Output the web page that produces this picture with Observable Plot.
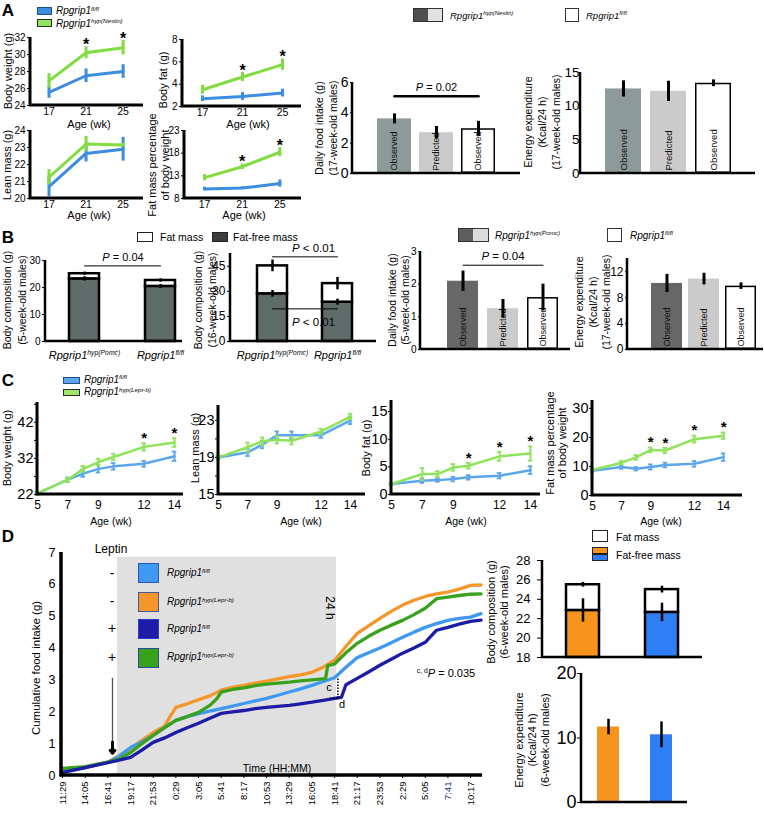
<!DOCTYPE html>
<html><head><meta charset="utf-8">
<script src="https://cdn.jsdelivr.net/npm/d3@7"></script>
<script src="https://cdn.jsdelivr.net/npm/@observablehq/plot@0.6"></script>
<style>
body{margin:0;background:#fff;}
#root{position:relative;width:764px;height:817px;overflow:hidden;font-family:"Liberation Sans",Arial,Helvetica,sans-serif;color:#000;background:#fff;}
.t{position:absolute;white-space:nowrap;line-height:1.15;}
.bx{position:absolute;box-sizing:border-box;}
sup{font-size:0.62em;vertical-align:0;position:relative;top:-0.55em;}
</style></head><body><div id="root"></div>
<script>
// ================= DATA =================
// Panel A (Rpgrip1 fl/fl vs hyp(Nestin))
const agesA = [17, 21, 25];
const bwA_flfl = [25.55, 27.5, 28.0], bwA_flflErr = [0.7, 0.8, 0.8];
const bwA_nes = [26.9, 30.2, 30.8], bwA_nesErr = [0.85, 0.7, 0.85], bwA_sig = [0, 1, 1];
const bfA_flfl = [2.7, 2.9, 3.2], bfA_flflErr = [0.25, 0.35, 0.35];
const bfA_nes = [3.5, 4.64, 5.75], bfA_nesErr = [0.4, 0.4, 0.5], bfA_sig = [0, 1, 1];
const lmA_flfl = [20.7, 22.65, 22.9], lmA_flflErr = [0.6, 0.5, 0.7];
const lmA_nes = [21.25, 23.2, 23.15], lmA_nesErr = [0.45, 0.45, 0.1], lmA_sig = [0, 0, 0];
const fpA_flfl = [10.1, 10.3, 11.3], fpA_flflErr = [0.4, 0.3, 0.8];
const fpA_nes = [12.6, 15.0, 18.2], fpA_nesErr = [0.7, 0.6, 1.0], fpA_sig = [0, 1, 1];

const barKeys = ["mutObserved", "mutPredicted", "ctrlObserved"];
const barLabels = ["Observed", "Predicted", "Observed"];
const foodA = [3.6, 2.69, 2.95], foodAErr = [0.33, 0.41, 0.49];
const foodA_P = [{from: "mutObserved", to: "ctrlObserved", y: 5.09, label: "P = 0.02"}];
const energyA = [12.56, 12.2, 13.4], energyAErr = [1.2, 1.5, 0.5];

// Panel B (Rpgrip1 hyp(Pomc) vs fl/fl)
const genoB = ["hypPomc", "flfl"];
const genoBLabels = ["Rpgrip1^{hyp(Pomc)}", "Rpgrip1^{fl/fl}"];
const compB5_ff = [23.2, 20.4], compB5_ffErr = [0.8, 0.7];
const compB5_tot = [25.1, 22.6], compB5_totErr = [0.6, 0.6];
const compB5_P = [{from: "hypPomc", to: "flfl", y: 28, label: "P = 0.04", dy: -8}];
const compB16_ff = [28.5, 23.5], compB16_ffErr = [2, 1.8];
const compB16_tot = [45.2, 34.6], compB16_totErr = [3.5, 3.7];
const compB16_P = [{from: "hypPomc", to: "flfl", y: 50.6, label: "P < 0.01", dy: -9},
                   {from: "hypPomc", to: "flfl", y: 19.5, label: "P < 0.01", dy: 13}];
const foodB = [2.09, 1.25, 1.59], foodBErr = [0.31, 0.28, 0.41];
const foodB_P = [{from: "mutObserved", to: "ctrlObserved", y: 2.58, label: "P = 0.04"}];
const energyB = [10.2, 10.87, 9.78], energyBErr = [1.4, 0.9, 0.5];

// Panel C (Rpgrip1 fl/fl vs hyp(Lepr-b))
const agesC = [5, 7, 8, 9, 10, 12, 14];
const bwC_flfl = [22.3, 26.1, 27.8, 29.1, 29.8, 30.5, 32.6], bwC_flflErr = [0.4, 0.6, 0.9, 1.0, 0.9, 0.8, 1.3];
const bwC_lepr = [22.4, 26.1, 29.1, 31.0, 32.4, 35.2, 36.4], bwC_leprErr = [0.4, 0.6, 0.8, 0.9, 0.9, 1.0, 1.2];
const bwC_sig = [0, 0, 0, 0, 0, 1, 1];
const lmC_flfl = [19.0, 19.55, 20.4, 21.4, 21.4, 21.4, 23.0], lmC_flflErr = [0.2, 0.4, 0.4, 0.4, 0.4, 0.3, 0.4];
const lmC_lepr = [19.0, 20.1, 20.75, 20.9, 20.8, 21.8, 23.4], lmC_leprErr = [0.2, 0.5, 0.4, 0.4, 0.4, 0.3, 0.3];
const lmC_sig = [0, 0, 0, 0, 0, 0, 0];
const bfC_flfl = [1.9, 2.5, 2.6, 2.8, 3.1, 3.4, 4.4], bfC_flflErr = [0.2, 0.4, 0.3, 0.4, 0.4, 0.5, 0.7];
const bfC_lepr = [1.9, 3.7, 3.7, 4.9, 5.2, 6.9, 7.4], bfC_leprErr = [0.2, 1.1, 0.5, 0.6, 0.5, 0.8, 1.3];
const bfC_sig = [0, 0, 0, 0, 1, 1, 1];
const fpC_flfl = [8.5, 9.8, 9.2, 9.8, 10.5, 10.9, 13.2], fpC_flflErr = [0.5, 0.6, 0.6, 0.9, 0.8, 1.0, 1.3];
const fpC_lepr = [8.8, 11.3, 13.1, 15.7, 15.5, 19.4, 20.6], fpC_leprErr = [0.6, 0.6, 0.8, 0.8, 0.9, 1.2, 1.1];
const fpC_sig = [0, 0, 0, 1, 1, 1, 1];

// Panel D — cumulative food intake, time in minutes after 11:29
const startClock = 11 * 60 + 29;
const tickStep = 156;
const darkStart = 378, darkEnd = 1885;           // grey shaded period
const leptinArrow = [{t: 344, from: 3.05, to: 0.7}];
const cdBracket = [{t: 1895, lo: 2.42, hi: 3.07, t0: 1845}];
const D_flfl_veh = [[0,0.1],[156,0.25],[312,0.42],[390,0.6],[468,0.88],[546,1.05],[624,1.26],[702,1.5],[780,1.73],[858,1.85],[936,1.94],[1014,2.02],[1092,2.1],[1170,2.18],[1248,2.26],[1326,2.34],[1404,2.42],[1482,2.52],[1560,2.62],[1638,2.72],[1716,2.83],[1794,2.95],[1872,3.07],[1950,3.4],[2028,3.7],[2106,3.85],[2184,4.0],[2262,4.17],[2340,4.34],[2418,4.5],[2496,4.65],[2574,4.77],[2652,4.87],[2730,4.93],[2808,4.97],[2880,5.08]];
const D_lepr_veh = [[0,0.12],[156,0.25],[312,0.42],[390,0.62],[468,0.85],[546,1.1],[624,1.35],[702,1.55],[740,1.85],[780,2.14],[858,2.25],[936,2.38],[1014,2.5],[1092,2.68],[1170,2.77],[1248,2.83],[1326,2.9],[1404,2.96],[1482,3.03],[1560,3.1],[1638,3.16],[1716,3.24],[1794,3.4],[1872,3.62],[1950,4.05],[2028,4.46],[2106,4.7],[2184,4.93],[2262,5.15],[2340,5.35],[2418,5.5],[2496,5.62],[2574,5.7],[2652,5.76],[2730,5.85],[2808,5.97],[2880,5.98]];
const D_flfl_lep = [[0,0.1],[156,0.25],[312,0.4],[390,0.48],[468,0.57],[546,0.8],[624,1.04],[702,1.18],[780,1.35],[858,1.5],[936,1.64],[1014,1.8],[1092,1.95],[1170,2.0],[1248,2.04],[1326,2.1],[1404,2.14],[1482,2.17],[1560,2.2],[1638,2.25],[1716,2.3],[1794,2.36],[1872,2.42],[1919,2.45],[1950,2.85],[2028,3.05],[2106,3.25],[2184,3.46],[2262,3.65],[2340,3.84],[2418,4.0],[2496,4.18],[2574,4.56],[2652,4.65],[2730,4.75],[2808,4.84],[2880,4.88]];
const D_lepr_lep = [[0,0.22],[156,0.28],[312,0.42],[390,0.52],[468,0.72],[546,1.0],[624,1.26],[702,1.5],[780,1.73],[858,1.85],[936,1.98],[1014,2.2],[1060,2.4],[1092,2.62],[1170,2.7],[1248,2.75],[1326,2.82],[1404,2.87],[1482,2.9],[1560,2.93],[1638,2.97],[1716,3.0],[1810,3.04],[1825,3.45],[1872,3.5],[1950,3.85],[2028,4.15],[2106,4.37],[2184,4.56],[2262,4.72],[2340,4.87],[2418,5.05],[2496,5.25],[2574,5.55],[2652,5.6],[2730,5.65],[2808,5.69],[2880,5.7]];
const genoD = ["hypLepr", "flfl"];
const compD_ff = [22.85, 22.65], compD_ffErr = [1.2, 0.95];
const compD_tot = [25.5, 25.0], compD_totErr = [0.25, 0.35];
const energyD = [11.7, 10.5], energyDErr = [1.2, 2.0];

// ================= HELPERS =================
const FONT = '"Liberation Sans", Arial, Helvetica, sans-serif';
const SVGNS = "http://www.w3.org/2000/svg";
const root = document.getElementById("root");
const plain = d => String(d);

function esc(s) { return String(s).replace(/&/g, "&amp;").replace(/</g, "&lt;").replace(/>/g, "&gt;"); }
function rich(svg) {
  svg.querySelectorAll("text").forEach(t => {
    if (t.querySelector("tspan")) return;
    const s = t.textContent; let m;
    if ((m = s.match(/^(.*)\^\{(.*)\}$/))) {
      t.innerHTML = `<tspan font-style="italic">${esc(m[1])}</tspan><tspan font-style="italic" font-size="0.62em" dy="-0.6em">${esc(m[2])}</tspan>`;
    } else if ((m = s.match(/^P( [=<].*)$/))) {
      t.innerHTML = `<tspan font-style="italic">P</tspan>${esc(m[1])}`;
    } else if (s === "7:41") {
      t.setAttribute("fill", "#1b2a80");
    }
  });
}
function plotAt(f, opts) {
  const ml = f.ml ?? 45, mr = f.mr ?? 15, mt = f.mt ?? 15, mb = f.mb ?? 45;
  const svg = Plot.plot({
    width: f.x1 - f.x0 + ml + mr, height: f.y1 - f.y0 + mt + mb,
    marginLeft: ml, marginRight: mr, marginTop: mt, marginBottom: mb,
    style: {fontFamily: FONT, fontSize: (f.fs ?? 11) + "px", background: "transparent", overflow: "visible", color: "#000", maxWidth: "none"},
    ...opts
  });
  svg.style.position = "absolute";
  svg.style.left = (f.x0 - ml) + "px";
  svg.style.top = (f.y0 - mt) + "px";
  rich(svg);
  root.appendChild(svg);
  return svg;
}
function axesLines(sw) {
  return (index, scales, values, d) => {
    const p = document.createElementNS(SVGNS, "path");
    const L = d.marginLeft, R = d.width - d.marginRight, T = d.marginTop, B = d.height - d.marginBottom;
    p.setAttribute("d", `M${L},${T}V${B}H${R}`);
    p.setAttribute("fill", "none"); p.setAttribute("stroke", "#000"); p.setAttribute("stroke-width", sw);
    return p;
  };
}
function txt(html, x, y, o = {}) {
  const d = document.createElement("div");
  d.className = "t"; d.innerHTML = html;
  d.style.fontSize = (o.size ?? 11) + "px";
  d.style.left = x + "px"; d.style.top = y + "px";
  if (o.bold) d.style.fontWeight = "bold";
  if (o.color) d.style.color = o.color;
  if (o.lh) d.style.lineHeight = o.lh + "px";
  d.style.textAlign = "center";
  const tx = o.anchor === "start" ? "0" : o.anchor === "end" ? "-100%" : "-50%";
  d.style.transform = `translate(${tx},-50%)` + (o.rot ? ` rotate(${o.rot}deg)` : "");
  root.appendChild(d);
}
function box(x, y, w, h, bg, border = "#222", bw = 1) {
  const d = document.createElement("div");
  d.className = "bx";
  Object.assign(d.style, {left: x + "px", top: y + "px", width: w + "px", height: h + "px", background: bg, border: `${bw}px solid ${border}`});
  root.appendChild(d);
}
const gene = s => `<i>Rpgrip1<sup>${s}</sup></i>`;

function lineChart(f, c) {
  const rows = (vals, errs, sig) => c.ages.map((a, i) => ({age: a, v: vals[i], e: errs[i], sig: sig ? sig[i] : 0}));
  const ctrl = rows(c.ctrl, c.ctrlErr, null), mut = rows(c.mut, c.mutErr, c.sig);
  const marks = [];
  for (const [r, col] of [[ctrl, c.blue], [mut, c.green]]) {
    marks.push(Plot.line(r, {x: "age", y: "v", stroke: col, strokeWidth: c.lw}));
    marks.push(Plot.ruleX(r, {x: "age", y1: d => d.v - d.e, y2: d => d.v + d.e, stroke: col, strokeWidth: c.ew}));
    if (c.cap) {
      marks.push(Plot.ruleY(r, {y: d => d.v - d.e, x1: d => d.age - c.cap, x2: d => d.age + c.cap, stroke: col, strokeWidth: 1.8}));
      marks.push(Plot.ruleY(r, {y: d => d.v + d.e, x1: d => d.age - c.cap, x2: d => d.age + c.cap, stroke: col, strokeWidth: 1.8}));
    }
  }
  marks.push(Plot.text(mut.filter(d => d.sig), {x: "age", y: d => d.v + d.e, text: () => "*", dy: c.starDy, fontSize: c.starFs, fontWeight: "bold"}));
  marks.push(Plot.axisY({ticks: c.yTicks, tickFormat: c.yFmt ?? plain, tickSize: 3, tickPadding: c.ypad ?? 2, label: null, fontSize: c.yfs}));
  marks.push(Plot.axisX({ticks: c.xTicks, tickFormat: plain, tickSize: 0, tickPadding: c.xpad ?? 4, label: null, fontSize: c.xfs}));
  marks.push(axesLines(c.aw));
  plotAt(f, {x: {domain: c.xDomain}, y: {domain: c.yDomain}, marks});
}

function barChart(f, c) {
  const rows = barKeys.map((k, i) => ({k, v: c.vals[i], e: c.errs[i], lab: barLabels[i]}));
  const marks = [
    Plot.barY(rows.filter(d => d.k !== "ctrlObserved"), {x: "k", y: "v", fill: d => c.fill[d.k]}),
    Plot.barY(rows.filter(d => d.k === "ctrlObserved"), {x: "k", y: "v", fill: "#fff", stroke: "#000", strokeWidth: 1.5, inset: 0.75}),
    Plot.text(rows, {x: "k", y: 0, text: "lab", rotate: -90, textAnchor: "start", dy: -3, fontSize: c.inFs, fill: "#111"}),
    Plot.ruleX(rows, {x: "k", y1: d => d.v - d.e, y2: d => d.v + d.e, stroke: "#000", strokeWidth: 3}),
  ];
  if (c.p) {
    for (const p of c.p) {
      marks.push(Plot.line([{k: p.from, y: p.y}, {k: p.to, y: p.y}], {x: "k", y: "y", stroke: "#000", strokeWidth: c.pw}));
      marks.push(Plot.text([p], {x: () => "mutPredicted", y: "y", text: "label", dy: -9, fontSize: c.pfs}));
    }
  }
  marks.push(Plot.axisY({ticks: c.yTicks, tickFormat: plain, tickSize: c.ts ?? 2, tickPadding: c.ypad ?? 2, label: null, fontSize: c.yfs}));
  marks.push(axesLines(c.aw));
  plotAt(f, {x: {type: "band", domain: barKeys, paddingInner: c.pi, paddingOuter: c.po, align: c.align, axis: null}, y: {domain: c.yDomain}, marks});
}

function stackChart(f, c) {
  const rows = c.keys.map((k, i) => ({k, ff: c.ff[i], ffE: c.ffErr[i], tot: c.tot[i], totE: c.totErr[i]}));
  const base = c.yDomain[0];
  const marks = [
    Plot.barY(rows, {x: "k", y1: base, y2: "ff", fill: d => c.fill[d.k], stroke: "#000", strokeWidth: c.sw}),
    Plot.barY(rows, {x: "k", y1: "ff", y2: "tot", fill: "#fff", stroke: "#000", strokeWidth: c.sw}),
    Plot.ruleX(rows, {x: "k", y1: d => d.ff - d.ffE, y2: d => d.ff + d.ffE, stroke: "#000", strokeWidth: c.ew}),
    Plot.ruleX(rows, {x: "k", y1: d => d.tot - d.totE, y2: d => d.tot + d.totE, stroke: "#000", strokeWidth: c.ew}),
  ];
  if (c.p) {
    for (const p of c.p) {
      marks.push(Plot.line([{k: p.from, y: p.y}, {k: p.to, y: p.y}], {x: "k", y: "y", stroke: "#000", strokeWidth: 1}));
      marks.push(Plot.text([p], {y: "y", text: "label", dy: p.dy, dx: c.pdx, fontSize: c.pfs}));
    }
  }
  marks.push(Plot.axisY({ticks: c.yTicks, tickFormat: plain, tickSize: c.ts ?? 3, tickPadding: c.ypad ?? 2, label: null, fontSize: c.yfs}));
  if (c.xLabels) marks.push(Plot.axisX({tickSize: 0, tickPadding: c.xpad, label: null, fontSize: c.xfs, tickFormat: d => c.xLabels[c.keys.indexOf(d)]}));
  marks.push(axesLines(c.aw));
  plotAt(f, {x: {type: "band", domain: c.keys, paddingInner: c.pi, paddingOuter: c.po, align: c.align, ...(c.xLabels ? {} : {axis: null})}, y: {domain: c.yDomain}, marks});
}

// ================= COLORS =================
const GA = "#80dc40", BA = "#3c8ce0";
const GC = "#8fe35a", BC = "#5ba6ec";
const DL = "#3f98f2", DO = "#f5962a", DN = "#1c1ca6", DG = "#38a21c";
const darkA = "#8c9b99", lightGrey = "#cbcbcb", darkB = "#5f6b69", darkB3 = "#676767";
const orangeBar = "#f7941d", blueBar = "#2f7ef4";

// ================= PANEL A =================
const aCommon = {ages: agesA, xTicks: agesA, green: GA, blue: BA, lw: 3, ew: 3, aw: 3, starDy: -2, starFs: 16, yfs: 10, xfs: 10.5, xpad: 2};
lineChart({x0: 30, x1: 143, y0: 37, y1: 105}, {...aCommon, ctrl: bwA_flfl, ctrlErr: bwA_flflErr, mut: bwA_nes, mutErr: bwA_nesErr, sig: bwA_sig,
  xDomain: [15, 27.2], yDomain: [24, 32], yTicks: [24, 26, 28, 30, 32]});
lineChart({x0: 182, x1: 301, y0: 39, y1: 106}, {...aCommon, ctrl: bfA_flfl, ctrlErr: bfA_flflErr, mut: bfA_nes, mutErr: bfA_nesErr, sig: bfA_sig,
  xDomain: [15, 26.9], yDomain: [2, 8], yTicks: [2, 4, 6, 8]});
lineChart({x0: 30, x1: 143, y0: 130, y1: 198}, {...aCommon, ctrl: lmA_flfl, ctrlErr: lmA_flflErr, mut: lmA_nes, mutErr: lmA_nesErr, sig: lmA_sig,
  xDomain: [15, 27.2], yDomain: [20, 24], yTicks: [20, 21, 22, 23, 24]});
lineChart({x0: 184, x1: 301, y0: 130, y1: 198}, {...aCommon, ctrl: fpA_flfl, ctrlErr: fpA_flflErr, mut: fpA_nes, mutErr: fpA_nesErr, sig: fpA_sig,
  xDomain: [14.87, 27.3], yDomain: [8, 23], yTicks: [8, 13, 18, 23]});

barChart({x0: 352, x1: 520, y0: 82, y1: 173, fs: 14}, {vals: foodA, errs: foodAErr, fill: {mutObserved: darkA, mutPredicted: lightGrey},
  yDomain: [0, 6], yTicks: [0, 2, 4, 6], pi: 0.2, po: 0.575, align: 0.5, p: foodA_P, pw: 2.5, pfs: 11, inFs: 9, yfs: 14, aw: 2.5});
barChart({x0: 580, x1: 755, y0: 72, y1: 173, fs: 14}, {vals: energyA, errs: energyAErr, fill: {mutObserved: darkA, mutPredicted: lightGrey},
  yDomain: [0, 15], yTicks: [0, 5, 10, 15], pi: 0.2, po: 0.544, align: 0.5, inFs: 9.5, yfs: 13.5, ts: 0, ypad: 1, aw: 2.5});

txt("A", 8, 11, {size: 17, bold: true});
box(37, 7, 15, 8, BA, "#1d4f86", 1.5); txt(gene("fl/fl"), 56, 11, {size: 10, anchor: "start"});
box(37, 19, 15, 8, "#8ee65a", "#2b2b2b", 1.5); txt(gene("hyp(Nestin)"), 56, 23.5, {size: 10, anchor: "start"});
box(413, 8, 30, 14, "linear-gradient(to right,#4f4f4f 50%,#e2e2e2 50%)", "#333", 1); txt(gene("hyp(Nestin)"), 450, 15.5, {size: 9.5, anchor: "start"});
box(565, 8, 14, 14, "#fff", "#333", 1); txt(gene("fl/fl"), 586, 15.5, {size: 9.5, anchor: "start"});
txt("Body weight (g)", 7.5, 71, {size: 11, rot: -90});
txt("Body fat (g)", 162.5, 80, {size: 11, rot: -90});
txt("Lean mass (g)", 6.5, 165, {size: 11, rot: -90});
txt("Fat mass percentage<br>of body weight", 159, 165, {size: 11, rot: -90, lh: 13});
txt("Age (wk)", 89, 123.5, {size: 11}); txt("Age (wk)", 248, 123.5, {size: 11});
txt("Age (wk)", 89, 215, {size: 11}); txt("Age (wk)", 244, 215, {size: 11});
txt("Daily food intake (g)<br>(17-week-old males)", 326, 128, {size: 10.5, rot: -90, lh: 14});
txt("Energy expenditure<br>(Kcal/24 h)<br>(17-week-old males)", 542, 122, {size: 10.5, rot: -90, lh: 14});

// ================= PANEL B =================
stackChart({x0: 45, x1: 182, y0: 260, y1: 341, fs: 10}, {keys: genoB, ff: compB5_ff, ffErr: compB5_ffErr, tot: compB5_tot, totErr: compB5_totErr,
  fill: {hypPomc: darkB, flfl: darkB}, yDomain: [0, 30], yTicks: [0, 10, 20, 30], pi: 0.6, po: 0.19, align: 0.79, sw: 2.5, ew: 2.5,
  p: compB5_P, pdx: 9, pfs: 11, yfs: 10, xLabels: genoBLabels, xpad: 10, xfs: 11, aw: 2.5});
stackChart({x0: 230, x1: 376, y0: 253, y1: 341, fs: 12}, {keys: genoB, ff: compB16_ff, ffErr: compB16_ffErr, tot: compB16_tot, totErr: compB16_totErr,
  fill: {hypPomc: darkB, flfl: darkB}, yDomain: [0, 52.6], yTicks: [0, 15, 30, 45], pi: 0.545, po: 0.379, align: 0.52, sw: 2.5, ew: 2.5,
  p: compB16_P, pdx: 10, pfs: 11.5, yfs: 12, xLabels: genoBLabels, xpad: 10, xfs: 11, aw: 2.5});
barChart({x0: 420, x1: 570, y0: 251, y1: 349, fs: 10}, {vals: foodB, errs: foodBErr, fill: {mutObserved: darkB3, mutPredicted: lightGrey},
  yDomain: [0, 3], yTicks: [0, 1, 2, 3], pi: 0.22, po: 0.44, align: 0.69, p: foodB_P, pw: 1, pfs: 11.5, inFs: 9, yfs: 10, aw: 2.5});
barChart({x0: 627, x1: 763, y0: 258, y1: 349, fs: 12}, {vals: energyB, errs: energyBErr, fill: {mutObserved: darkB3, mutPredicted: lightGrey},
  yDomain: [0, 14.05], yTicks: [0, 4, 8, 12], pi: 0.17, po: 0.4, align: 0.77, inFs: 9, yfs: 12, aw: 2.5});

txt("B", 8, 238, {size: 17, bold: true});
box(137, 232, 16, 10, "#fff", "#222", 1); txt("Fat mass", 160, 237, {size: 10.5, anchor: "start"});
box(212, 232, 16, 10, "#3d3d3d", "#222", 1); txt("Fat-free mass", 233, 237, {size: 10.5, anchor: "start"});
box(458, 228, 31, 14, "linear-gradient(to right,#5e5e5e 50%,#dcdcdc 50%)", "#333", 1); txt(gene("hyp(Pomc)"), 495, 235.5, {size: 10, anchor: "start"});
box(607, 228, 15, 14, "#fff", "#333", 1); txt(gene("fl/fl"), 630, 235.5, {size: 10, anchor: "start"});
txt("Body composition (g)<br>(5-week-old males)", 15, 300, {size: 10.5, rot: -90, lh: 15});
txt("Body composition (g)<br>(16-week-old males)", 204.5, 300, {size: 10.5, rot: -90, lh: 14});
txt("Daily food intake (g)<br>(5-week-old males)", 399, 300, {size: 10.5, rot: -90, lh: 13});
txt("Energy expenditure<br>(Kcal/24 h)<br>(17-week-old males)", 592.5, 302, {size: 10.5, rot: -90, lh: 13.5});

// ================= PANEL C =================
const cCommon = {ages: agesC, xTicks: [5, 7, 9, 12, 14], green: GC, blue: BC, lw: 2.5, ew: 2, cap: 0.15, aw: 3, starDy: -5, starFs: 15, yfs: 14.5, xfs: 12, xpad: 6, ypad: 1};
lineChart({x0: 37, x1: 183, y0: 402, y1: 494}, {...cCommon, ctrl: bwC_flfl, ctrlErr: bwC_flflErr, mut: bwC_lepr, mutErr: bwC_leprErr, sig: bwC_sig,
  xDomain: [5, 14.59], yDomain: [22, 47.5], yTicks: [22, 27, 32, 37, 42, 47], yFmt: d => [22, 32, 42].includes(d) ? String(d) : ""});
lineChart({x0: 218, x1: 365, y0: 405, y1: 494}, {...cCommon, ctrl: lmC_flfl, ctrlErr: lmC_flflErr, mut: lmC_lepr, mutErr: lmC_leprErr, sig: lmC_sig,
  xDomain: [5, 15.02], yDomain: [15, 24.6], yTicks: [15, 17, 19, 21, 23], yFmt: d => [15, 19, 23].includes(d) ? String(d) : ""});
lineChart({x0: 391, x1: 540, y0: 400, y1: 494}, {...cCommon, ctrl: bfC_flfl, ctrlErr: bfC_flflErr, mut: bfC_lepr, mutErr: bfC_leprErr, sig: bfC_sig,
  xDomain: [5, 14.65], yDomain: [0, 17], yTicks: [0, 5, 10, 15]});
lineChart({x0: 592, x1: 742, y0: 400, y1: 495}, {...cCommon, ctrl: fpC_flfl, ctrlErr: fpC_flflErr, mut: fpC_lepr, mutErr: fpC_leprErr, sig: fpC_sig,
  xDomain: [5, 15.3], yDomain: [0, 32.7], yTicks: [0, 10, 20, 30]});

txt("C", 8, 381, {size: 17, bold: true});
box(63, 377, 17, 7, BC, "#1d4f86", 1.5); txt(gene("fl/fl"), 84, 379.5, {size: 10, anchor: "start"});
box(63, 389, 17, 7, "#9be86a", "#2b2b2b", 1.5); txt(gene("hyp(Lepr-b)"), 84, 392, {size: 10, anchor: "start"});
txt("Body weight (g)", 7, 448, {size: 11, rot: -90});
txt("Lean mass (g)", 195, 448, {size: 11, rot: -90});
txt("Body fat (g)", 366, 448, {size: 11, rot: -90});
txt("Fat mass percentage<br>of body weight", 556, 443, {size: 11, rot: -90, lh: 12});
txt("Age (wk)", 111, 521, {size: 10.5}); txt("Age (wk)", 301, 521, {size: 10.5});
txt("Age (wk)", 466, 521, {size: 10.5}); txt("Age (wk)", 661, 521, {size: 10.5});

// ================= PANEL D =================
const clock = m => { const t = (startClock + m) % 1440; return Math.floor(t / 60) + ":" + String(t % 60).padStart(2, "0"); };
const seriesD = [
  {pts: D_lepr_veh, color: DO}, {pts: D_flfl_veh, color: DL}, {pts: D_lepr_lep, color: DG}, {pts: D_flfl_lep, color: DN}
];
plotAt({x0: 61, x1: 482, y0: 552, y1: 775, fs: 12.5, mb: 50}, {
  x: {domain: [-7, 2890]}, y: {domain: [0, 7]},
  marks: [
    Plot.rect([{a: darkStart, b: darkEnd}], {x1: "a", x2: "b", y1: 0, y2: 6.85, fill: "#e0e0e0"}),
    ...seriesD.map(s => Plot.line(s.pts, {x: d => d[0], y: d => d[1], stroke: s.color, strokeWidth: 3.3})),
    Plot.ruleX(cdBracket, {x: "t", y1: "lo", y2: "hi", stroke: "#000", strokeWidth: 1.5, strokeDasharray: "1.5,1.5"}),
    Plot.ruleY(cdBracket, {y: "lo", x1: "t0", x2: "t", stroke: "#000", strokeWidth: 1.5, strokeDasharray: "1.5,1.5"}),
    Plot.arrow(leptinArrow, {x1: "t", y1: "from", x2: "t", y2: "to", stroke: "#555", strokeWidth: 1.3, headLength: 0}),
    Plot.arrow(leptinArrow, {x1: "t", y1: d => d.to + 0.35, x2: "t", y2: "to", stroke: "#000", strokeWidth: 3, headLength: 12, headAngle: 80}),
    Plot.axisY({ticks: d3.range(0, 8), tickFormat: plain, tickSize: 2, tickPadding: 4, label: null, fontSize: 12.5}),
    Plot.axisX({ticks: d3.range(0, 2809, tickStep), tickFormat: clock, tickRotate: -90, tickSize: 3, tickPadding: 3, label: null, fontSize: 9.5}),
    axesLines(3.5)
  ]
});
stackChart({x0: 542, x1: 702, y0: 560, y1: 657, fs: 13}, {keys: genoD, ff: compD_ff, ffErr: compD_ffErr, tot: compD_tot, totErr: compD_totErr,
  fill: {hypLepr: orangeBar, flfl: blueBar}, yDomain: [18, 28], yTicks: [18, 20, 22, 24, 26, 28], pi: 0.5875, po: 0.294, align: 0.49, sw: 2.5, ew: 2.5,
  yfs: 13, ts: 5, ypad: 7, aw: 2.5});
{
  const rows = genoD.map((k, i) => ({k, v: energyD[i], e: energyDErr[i]}));
  const fillD = {hypLepr: orangeBar, flfl: blueBar};
  plotAt({x0: 581, x1: 687, y0: 673, y1: 802, fs: 18}, {
    x: {type: "band", domain: genoD, paddingInner: 0.594, paddingOuter: 0.297, align: 0.51, axis: null}, y: {domain: [0, 20]},
    marks: [
      Plot.barY(rows, {x: "k", y: "v", fill: d => fillD[d.k]}),
      Plot.ruleX(rows, {x: "k", y1: d => d.v - d.e, y2: d => d.v + d.e, stroke: "#000", strokeWidth: 2.5}),
      Plot.axisY({ticks: [0, 10, 20], tickFormat: plain, tickSize: 4, tickPadding: 1, label: null, fontSize: 18}),
      axesLines(2.5)
    ]
  });
}

txt("D", 8, 537, {size: 17, bold: true});
txt("Leptin", 111, 550, {size: 12});
txt("-", 112, 573, {size: 14}); txt("-", 112, 601, {size: 14});
txt("+", 112, 628, {size: 14}); txt("+", 112, 657, {size: 14});
box(138, 563, 21, 20, DL, "#2a55b0", 1); txt(gene("fl/fl"), 167, 573, {size: 10, anchor: "start"});
box(138, 592, 21, 20, DO, "#4a55a0", 1); txt(gene("hyp(Lepr-b)"), 167, 602, {size: 10, anchor: "start"});
box(138, 619, 21, 20, DN, "#2a3ad0", 1); txt(gene("fl/fl"), 167, 629, {size: 10, anchor: "start"});
box(138, 648, 21, 20, DG, "#2a4aa0", 1); txt(gene("hyp(Lepr-b)"), 167, 657, {size: 10, anchor: "start"});
txt("24 h", 329, 608, {size: 12, rot: 90});
txt("c", 329, 687, {size: 11}); txt("d", 342, 704, {size: 11});
txt("Time (HH:MM)", 277, 768, {size: 10.5});
txt("<sup>c, d</sup><i>P</i> = 0.035", 446, 673, {size: 11});
txt("Cumulative food intake (g)", 37, 668, {size: 11.5, rot: -90});
box(592, 530, 16, 12, "#fff", "#222", 1.5); txt("Fat mass", 616, 536.5, {size: 10.5, anchor: "start"});
box(592, 547, 16, 14, `linear-gradient(to bottom,${orangeBar} 45%,#222 45%,#222 55%,${blueBar} 55%)`, "#222", 1.5); txt("Fat-free mass", 616, 555, {size: 10.5, anchor: "start"});
txt("Body composition (g)<br>(6-week-old males)", 497.5, 612, {size: 11, rot: -90, lh: 13});
txt("Energy expenditure<br>(Kcal/24 h)<br>(6-week-old males)", 532, 740, {size: 11, rot: -90, lh: 13});
</script></body></html>
